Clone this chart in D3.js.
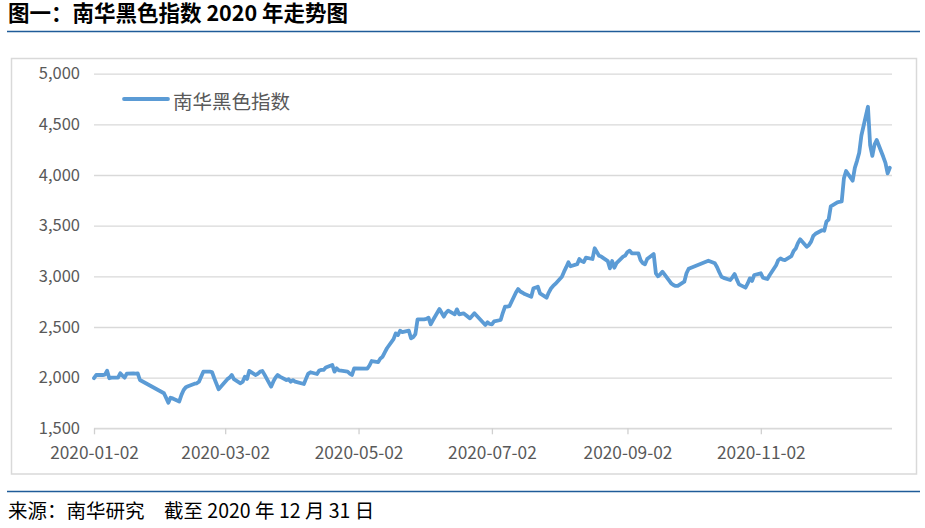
<!DOCTYPE html>
<html><head><meta charset="utf-8">
<script src="https://cdn.jsdelivr.net/npm/d3@7"></script>
<style>
html,body{margin:0;padding:0;background:#fff;}
svg{display:block;}
text{font-family:"Noto Sans CJK SC","Noto Sans",sans-serif;}
</style></head>
<body>
<svg id="chart" width="925" height="528"></svg>
<script>
const titleText = "图一：南华黑色指数 2020 年走势图";
const footerText = "来源：南华研究\u3000截至 2020 年 12 月 31 日";
const seriesName = "南华黑色指数";
const yTicks = [1500, 2000, 2500, 3000, 3500, 4000, 4500, 5000];
const xTickDates = ["2020-01-02","2020-03-02","2020-05-02","2020-07-02","2020-09-02","2020-11-02"];
const dates = [
"2020-01-02","2020-01-03","2020-01-06","2020-01-07","2020-01-08","2020-01-09","2020-01-10","2020-01-13","2020-01-14","2020-01-15","2020-01-16","2020-01-17","2020-01-20","2020-01-21","2020-01-22","2020-01-23",
"2020-02-03","2020-02-04","2020-02-05","2020-02-06","2020-02-07","2020-02-10","2020-02-11","2020-02-12","2020-02-13","2020-02-14","2020-02-17","2020-02-18","2020-02-19","2020-02-20","2020-02-21","2020-02-24","2020-02-25","2020-02-26","2020-02-27","2020-02-28",
"2020-03-02","2020-03-03","2020-03-04","2020-03-05","2020-03-06","2020-03-09","2020-03-10","2020-03-11","2020-03-12","2020-03-13","2020-03-16","2020-03-17","2020-03-18","2020-03-19","2020-03-20","2020-03-23","2020-03-24","2020-03-25","2020-03-26","2020-03-27","2020-03-30","2020-03-31",
"2020-04-01","2020-04-02","2020-04-03","2020-04-07","2020-04-08","2020-04-09","2020-04-10","2020-04-13","2020-04-14","2020-04-15","2020-04-16","2020-04-17","2020-04-20","2020-04-21","2020-04-22","2020-04-23","2020-04-24","2020-04-27","2020-04-28","2020-04-29","2020-04-30",
"2020-05-06","2020-05-07","2020-05-08","2020-05-11","2020-05-12","2020-05-13","2020-05-14","2020-05-15","2020-05-18","2020-05-19","2020-05-20","2020-05-21","2020-05-22","2020-05-25","2020-05-26","2020-05-27","2020-05-28","2020-05-29",
"2020-06-01","2020-06-02","2020-06-03","2020-06-04","2020-06-05","2020-06-08","2020-06-09","2020-06-10","2020-06-11","2020-06-12","2020-06-15","2020-06-16","2020-06-17","2020-06-18","2020-06-19","2020-06-22","2020-06-23","2020-06-24","2020-06-29","2020-06-30",
"2020-07-01","2020-07-02","2020-07-03","2020-07-06","2020-07-07","2020-07-08","2020-07-09","2020-07-10","2020-07-13","2020-07-14","2020-07-15","2020-07-16","2020-07-17","2020-07-20","2020-07-21","2020-07-22","2020-07-23","2020-07-24","2020-07-27","2020-07-28","2020-07-29","2020-07-30","2020-07-31",
"2020-08-03","2020-08-04","2020-08-05","2020-08-06","2020-08-07","2020-08-10","2020-08-11","2020-08-12","2020-08-13","2020-08-14","2020-08-17","2020-08-18","2020-08-19","2020-08-20","2020-08-21","2020-08-24","2020-08-25","2020-08-26","2020-08-27","2020-08-28","2020-08-31",
"2020-09-01","2020-09-02","2020-09-03","2020-09-04","2020-09-07","2020-09-08","2020-09-09","2020-09-10","2020-09-11","2020-09-14","2020-09-15","2020-09-16","2020-09-17","2020-09-18","2020-09-21","2020-09-22","2020-09-23","2020-09-24","2020-09-25","2020-09-28","2020-09-29","2020-09-30",
"2020-10-09","2020-10-12","2020-10-13","2020-10-14","2020-10-15","2020-10-16","2020-10-19","2020-10-20","2020-10-21","2020-10-22","2020-10-23","2020-10-26","2020-10-27","2020-10-28","2020-10-29","2020-10-30",
"2020-11-02","2020-11-03","2020-11-04","2020-11-05","2020-11-06","2020-11-09","2020-11-10","2020-11-11","2020-11-12","2020-11-13","2020-11-16","2020-11-17","2020-11-18","2020-11-19","2020-11-20","2020-11-23","2020-11-24","2020-11-25","2020-11-26","2020-11-27","2020-11-30",
"2020-12-01","2020-12-02","2020-12-03","2020-12-04","2020-12-07","2020-12-08","2020-12-09","2020-12-10","2020-12-11","2020-12-14","2020-12-15","2020-12-16","2020-12-17","2020-12-18","2020-12-21","2020-12-22","2020-12-23","2020-12-24","2020-12-25","2020-12-28","2020-12-29","2020-12-30","2020-12-31"
];
const values = [
1995,2026,2026,2030,2068,1994,2000,2000,2043,2020,2000,2040,2043,2040,2043,1977,
1846,1800,1752,1802,1795,1765,1830,1878,1905,1915,1940,1944,1960,2010,2059,2059,2055,1994,1940,1885,
1960,1985,2000,2026,1985,1944,1960,2010,1987,2066,2026,2040,2060,2066,2030,1911,1960,2000,2026,2010,1977,1985,
1960,1975,1960,1937,1990,2040,2053,2036,2070,2076,2076,2100,2125,2059,2092,2072,2069,2059,2040,2026,2092,
2089,2120,2164,2154,2190,2207,2250,2290,2380,2437,2420,2463,2450,2463,2388,2400,2430,2576,
2576,2580,2592,2526,2566,2677,2640,2602,2640,2661,2625,2674,2625,2630,2635,2585,2610,2635,2520,2546,
2530,2526,2555,2569,2640,2700,2700,2705,2840,2875,2850,2838,2825,2799,2882,2888,2898,2832,2789,2840,2880,2905,2925,
2996,3046,3090,3138,3100,3120,3171,3150,3140,3184,3171,3277,3240,3204,3195,3150,3079,3151,3085,3130,3194,
3205,3240,3253,3227,3227,3160,3130,3118,3170,3220,3030,3000,3020,3046,2960,2930,2915,2905,2905,2947,3030,3075,
3154,3128,3090,3040,2996,2985,2964,2990,3023,2970,2921,2888,2930,2980,2955,3013,
3030,2986,2980,2973,3010,3110,3160,3177,3165,3161,3200,3250,3275,3330,3365,3292,3310,3342,3400,3420,3455,
3450,3539,3560,3690,3730,3736,3740,3967,4039,3944,4070,4140,4220,4390,4674,4296,4190,4300,4345,4180,4120,4017,4072
];

const parse = d3.timeParse("%Y-%m-%d");
const data = dates.map((d, i) => ({date: parse(d), value: values[i]}));

const svg = d3.select("#chart");
const plot = {left: 94, right: 892, top: 73.7, bottom: 428.3};

// title and footer
svg.append("text").attr("x", 8).attr("y", 20.5).attr("font-size", 21.5).attr("font-weight", "bold")
  .attr("fill", "#000").text(titleText);
svg.append("line").attr("x1", 7).attr("x2", 920).attr("y1", 31.5).attr("y2", 31.5)
  .attr("stroke", "#1F5C99").attr("stroke-width", 1.3);
svg.append("line").attr("x1", 7).attr("x2", 920).attr("y1", 491.5).attr("y2", 491.5)
  .attr("stroke", "#1F5C99").attr("stroke-width", 1.3);
svg.append("text").attr("x", 8).attr("y", 517.5).attr("font-size", 19.5)
  .attr("fill", "#000").text(footerText);

// chart frame
svg.append("rect").attr("x", 11.5).attr("y", 58.5).attr("width", 905).attr("height", 415.5)
  .attr("fill", "#fff").attr("stroke", "#D9D9D9").attr("stroke-width", 1.5);

const x = d3.scaleTime().domain([parse("2020-01-02"), parse("2021-01-01")]).range([plot.left, plot.right]);
const y = d3.scaleLinear().domain([1500, 5000]).range([plot.bottom, plot.top]);

// gridlines + y labels
const yAxis = d3.axisLeft(y).tickValues(yTicks).tickSize(-(plot.right - plot.left))
  .tickPadding(14).tickFormat(d3.format(","));
const gy = svg.append("g").attr("transform", `translate(${plot.left},0)`).call(yAxis);
gy.select(".domain").remove();
gy.selectAll(".tick line").attr("stroke", "#D9D9D9").attr("stroke-width", 1.3);
gy.selectAll(".tick text").attr("font-size", 16.5).attr("fill", "#595959")
  .attr("font-family", "'Noto Sans CJK SC','Noto Sans',sans-serif");

// x axis
const xAxis = d3.axisBottom(x).tickValues(xTickDates.map(parse)).tickSize(6).tickPadding(12)
  .tickFormat(d3.timeFormat("%Y-%m-%d"));
const gx = svg.append("g").attr("transform", `translate(0,${plot.bottom})`).call(xAxis);
gx.select(".domain").attr("stroke", "#D9D9D9").attr("stroke-width", 1.3)
  .attr("d", `M${plot.left},0H${plot.right}`);
gx.selectAll(".tick line").attr("stroke", "#D0D0D0").attr("stroke-width", 1.3);
gx.selectAll(".tick text").attr("font-size", 17.3).attr("fill", "#595959")
  .attr("font-family", "'Noto Sans CJK SC','Noto Sans',sans-serif");

// series line
const line = d3.line().x(d => x(d.date)).y(d => y(d.value));
svg.append("path").datum(data).attr("d", line).attr("fill", "none")
  .attr("stroke", "#5B9BD5").attr("stroke-width", 3.8)
  .attr("stroke-linejoin", "round").attr("stroke-linecap", "round");

// legend
svg.append("line").attr("x1", 124).attr("x2", 168).attr("y1", 99).attr("y2", 99)
  .attr("stroke", "#5B9BD5").attr("stroke-width", 3.8).attr("stroke-linecap", "round");
svg.append("text").attr("x", 173).attr("y", 100).attr("dominant-baseline", "central")
  .attr("font-size", 19.5).attr("fill", "#595959").text(seriesName);
</script>
</body></html>
